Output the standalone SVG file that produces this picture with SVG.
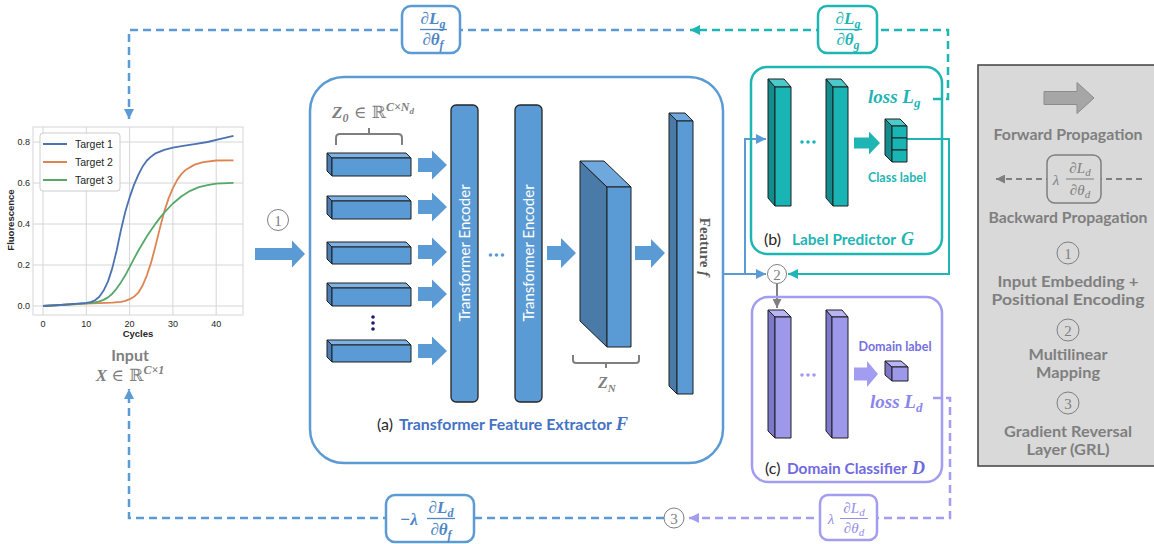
<svg xmlns="http://www.w3.org/2000/svg" width="1154" height="544" viewBox="0 0 1154 544">
<defs>
<style>
.sans{font-family:Lato,"Open Sans","Liberation Sans",sans-serif;font-weight:bold}
.math{font-family:"Liberation Serif","DejaVu Serif",serif;font-style:italic;font-weight:bold}
.mathr{font-family:"Liberation Serif","DejaVu Serif",serif;font-style:italic}
.up{font-family:"DejaVu Serif",serif;font-style:normal;font-weight:normal}
.plot{font-family:"Liberation Sans",Arial,sans-serif;fill:#262626}
.dash{fill:none;stroke-width:2.5;stroke-dasharray:8 5}
.solid{fill:none;stroke-width:2}
.blk{stroke:#1e1e1e;stroke-width:1;stroke-linejoin:round}
.bf{fill:#5b9bd5}.bs{fill:#4a7db3}.bt{fill:#7fb2e3}
.tf{fill:#19b4b4}.ts{fill:#128c8c}.tt{fill:#4ccaca}
.pf{fill:#9d98ea}.ps{fill:#7d78c9}.pt{fill:#b8b4f6}
.grid{stroke:#d6d6d6;stroke-width:1}
.circ{fill:#fff;stroke:#7f7f7f;stroke-width:1}
.num{font-family:"Liberation Serif","DejaVu Serif",serif;font-size:15px;fill:#7f7f7f;text-anchor:middle}
.leg{font-family:Lato,"Open Sans","Liberation Sans",sans-serif;font-weight:bold;font-size:15px;fill:#7f7f7f;text-anchor:middle}
.cap{font-family:Lato,"Open Sans","Liberation Sans",sans-serif;font-size:16px}
</style>
<marker id="mBlue" viewBox="0 0 10 10" refX="10" refY="5" markerWidth="10" markerHeight="10" markerUnits="userSpaceOnUse" orient="auto"><path d="M0,0 L10,5 L0,10 z" fill="#5b9bd5"/></marker>
<marker id="mTeal" viewBox="0 0 10 10" refX="10" refY="5" markerWidth="10" markerHeight="10" markerUnits="userSpaceOnUse" orient="auto"><path d="M0,0 L10,5 L0,10 z" fill="#1fb5b5"/></marker>
<marker id="mPurp" viewBox="0 0 10 10" refX="10" refY="5" markerWidth="10" markerHeight="10" markerUnits="userSpaceOnUse" orient="auto"><path d="M0,0 L10,5 L0,10 z" fill="#a29df0"/></marker>
<marker id="mGray" viewBox="0 0 10 10" refX="10" refY="5" markerWidth="9" markerHeight="9" markerUnits="userSpaceOnUse" orient="auto"><path d="M0,0 L10,5 L0,10 z" fill="#7f7f7f"/></marker>
</defs>
<rect width="1154" height="544" fill="#fff"/>

<!-- connectors -->
<g id="connectors">
  <path class="dash" stroke="#1fb5b5" d="M933 99 H948 V30 H690" marker-end="url(#mTeal)"/>
  <path class="dash" stroke="#5b9bd5" d="M684 30 H129 V119" marker-end="url(#mBlue)"/>
  <path class="dash" stroke="#a29df0" d="M933 398 H950 V518 H689" marker-end="url(#mPurp)"/>
  <path class="dash" stroke="#5b9bd5" d="M664 518 H129 V389" marker-end="url(#mBlue)"/>
  <path class="solid" stroke="#5b9bd5" d="M722 274 H745 V139 H766" marker-end="url(#mBlue)"/>
  <path class="solid" stroke="#5b9bd5" d="M745 274 H766" marker-end="url(#mBlue)"/>
  <path class="solid" stroke="#1fb5b5" d="M907 139 H949 V274 H788" marker-end="url(#mTeal)"/>
  <path class="solid" stroke="#7f7f7f" d="M777 284 V308" marker-end="url(#mGray)"/>
  <path fill="#5b9bd5" d="M255 248 H292 V240.5 L305 254 L292 267.5 V260 H255 Z"/>
</g>

<!-- gradient boxes -->
<g id="grad-top-left">
  <rect x="402" y="6" width="58" height="47" rx="9" fill="#fff" stroke="#5b9bd5" stroke-width="2.5"/>
  <text class="math" x="433" y="24" font-size="17" fill="#4f86c6" text-anchor="middle">∂L<tspan font-size="12" dy="4">g</tspan></text>
  <line x1="420" y1="29.5" x2="447" y2="29.5" stroke="#4f86c6" stroke-width="1.3"/>
  <text class="math" x="433" y="45" font-size="17" fill="#4f86c6" text-anchor="middle">∂θ<tspan font-size="12" dy="4">f</tspan></text>
</g>
<g id="grad-top-right">
  <rect x="818" y="6" width="59" height="47" rx="9" fill="#fff" stroke="#1fb5b5" stroke-width="2.5"/>
  <text class="math" x="848" y="24" font-size="17" fill="#1fb5b5" text-anchor="middle">∂L<tspan font-size="12" dy="4">g</tspan></text>
  <line x1="834" y1="29.5" x2="862" y2="29.5" stroke="#1fb5b5" stroke-width="1.3"/>
  <text class="math" x="848" y="45" font-size="17" fill="#1fb5b5" text-anchor="middle">∂θ<tspan font-size="12" dy="4">g</tspan></text>
</g>
<g id="grad-bottom-left">
  <rect x="386" y="495" width="88" height="47" rx="9" fill="#fff" stroke="#5b9bd5" stroke-width="2.5"/>
  <text class="math" x="409" y="525" font-size="17" fill="#4f86c6" text-anchor="middle">−λ</text>
  <text class="math" x="441" y="513" font-size="17" fill="#4f86c6" text-anchor="middle">∂L<tspan font-size="12" dy="4">d</tspan></text>
  <line x1="427" y1="518.5" x2="455" y2="518.5" stroke="#4f86c6" stroke-width="1.3"/>
  <text class="math" x="441" y="535" font-size="17" fill="#4f86c6" text-anchor="middle">∂θ<tspan font-size="12" dy="4">f</tspan></text>
</g>
<g id="grad-bottom-right">
  <rect x="820" y="495" width="57" height="45" rx="8" fill="#fff" stroke="#a29df0" stroke-width="2.5"/>
  <text class="mathr" x="831" y="524" font-size="15" fill="#938eea" text-anchor="middle">λ</text>
  <text class="mathr" x="854" y="513" font-size="15" fill="#938eea" text-anchor="middle">∂L<tspan font-size="11" dy="3">d</tspan></text>
  <line x1="840" y1="518.5" x2="868" y2="518.5" stroke="#938eea" stroke-width="1"/>
  <text class="mathr" x="854" y="533" font-size="15" fill="#938eea" text-anchor="middle">∂θ<tspan font-size="11" dy="3">d</tspan></text>
</g>

<!-- circled numbers -->
<g id="circle-1"><circle class="circ" cx="278" cy="220" r="10.5"/><text class="num" x="278" y="225.5">1</text></g>
<g id="circle-2"><circle class="circ" cx="777" cy="274" r="9.5"/><text class="num" x="777" y="279.5">2</text></g>
<g id="circle-3"><circle class="circ" cx="674" cy="518" r="10"/><text class="num" x="674" y="523.5">3</text></g>

<!-- input plot -->
<g id="input-plot">
  <rect x="33" y="127" width="210" height="188" fill="#fff" stroke="#d6d6d6" stroke-width="1"/>
  <g class="grid">
    <line x1="43" y1="127" x2="43" y2="315"/><line x1="86.3" y1="127" x2="86.3" y2="315"/>
    <line x1="129.6" y1="127" x2="129.6" y2="315"/><line x1="172.9" y1="127" x2="172.9" y2="315"/>
    <line x1="216.2" y1="127" x2="216.2" y2="315"/>
    <line x1="33" y1="306" x2="243" y2="306"/><line x1="33" y1="265" x2="243" y2="265"/>
    <line x1="33" y1="224" x2="243" y2="224"/><line x1="33" y1="183" x2="243" y2="183"/>
    <line x1="33" y1="142" x2="243" y2="142"/>
  </g>
  <g class="plot" font-size="9" text-anchor="end">
    <text x="30" y="309">0.0</text><text x="30" y="268">0.2</text><text x="30" y="227">0.4</text>
    <text x="30" y="186">0.6</text><text x="30" y="145">0.8</text>
  </g>
  <g class="plot" font-size="9" text-anchor="middle">
    <text x="43" y="327">0</text><text x="86.3" y="327">10</text><text x="129.6" y="327">20</text>
    <text x="172.9" y="327">30</text><text x="216.2" y="327">40</text>
  </g>
  <text class="plot" x="138" y="337" font-size="9.5" font-weight="bold" text-anchor="middle">Cycles</text>
  <text class="plot" transform="translate(14 220) rotate(-90)" font-size="9.5" font-weight="bold" text-anchor="middle">Fluorescence</text>
  <g fill="none" stroke-width="1.8" stroke-linejoin="round">
    <path stroke="#dd8452" d="M43,306 L86.3,303.7 L112.3,302.7 L120.9,301.9 L125.3,300.9 L129.6,299.2 L133.9,296.8 L138.3,292.7 L142.6,285.5 L146.9,275.3 L151.3,261.9 L155.6,245.5 L159.9,228.1 L164.2,211.7 L168.6,198.4 L172.9,188.1 L177.2,179.9 L181.6,173.8 L185.9,169.7 L194.6,164.6 L203.2,162.1 L216.2,160.5 L233.5,160.3"/>
    <path stroke="#55a868" d="M43,306 L86.3,303.3 L95,302.3 L99.3,301.3 L103.6,299.9 L108,297.4 L112.3,293.7 L116.6,288.6 L120.9,282.4 L125.3,275.3 L129.6,267.1 L133.9,258.9 L138.3,250.7 L142.6,243.5 L146.9,236.3 L151.3,229.7 L155.6,223.6 L159.9,217.9 L164.2,212.7 L168.6,208 L172.9,203.5 L181.6,196.3 L190.2,190.8 L198.9,187.1 L207.5,185.1 L216.2,183.6 L233.5,182.8"/>
    <path stroke="#4c72b0" d="M43,306 L60.3,305 L77.6,303.7 L86.3,302.9 L90.6,302.1 L95,300.3 L99.3,296.8 L103.6,290.6 L108,281.4 L112.3,268.1 L116.6,250.7 L120.9,230.2 L125.3,211.7 L129.6,197.4 L133.9,185.1 L138.3,174.8 L142.6,166.6 L146.9,160.5 L151.3,156.4 L155.6,153.3 L164.2,149.8 L172.9,147.7 L181.6,146.1 L194.6,144.1 L207.5,142 L220.5,138.9 L233.5,135.9"/>
  </g>
  <rect x="40" y="133" width="80" height="58" rx="3" fill="#fff" fill-opacity="0.85" stroke="#cccccc"/>
  <g stroke-width="2"><line x1="43" y1="144" x2="67" y2="144" stroke="#4c72b0"/><line x1="43" y1="162" x2="67" y2="162" stroke="#dd8452"/><line x1="43" y1="180" x2="67" y2="180" stroke="#55a868"/></g>
  <g class="plot" font-size="10.5"><text x="75" y="148">Target 1</text><text x="75" y="166">Target 2</text><text x="75" y="184">Target 3</text></g>
</g>
<g id="input-label">
  <text class="sans" x="130" y="361" font-size="16" fill="#7f7f7f" text-anchor="middle">Input</text>
  <text class="math" x="130" y="381" font-size="17" fill="#7f7f7f" text-anchor="middle">X <tspan class="up">∈ ℝ</tspan><tspan font-size="12" dy="-7">C×1</tspan></text>
</g>

<!-- feature extractor -->
<g id="feature-extractor">
  <rect x="310" y="77" width="413" height="386" rx="34" fill="none" stroke="#5b9bd5" stroke-width="2.5"/>
  <text class="math" x="332" y="118" font-size="17" fill="#7f7f7f">Z<tspan font-size="12" dy="4">0</tspan><tspan class="up" dy="-4"> ∈ ℝ</tspan><tspan font-size="12" dy="-7">C×N</tspan><tspan font-size="9" dy="3">d</tspan></text>
  <path d="M336 145 V138 Q336 134 340 134 H369 V128 M369 134 H398 Q402 134 402 138 V145" fill="none" stroke="#7f7f7f" stroke-width="2"/>
  <g id="tokens" class="blk">
    <g><path class="bs" d="M327 153 L332 158 V176 L327 171 Z"/><path class="bt" d="M327 153 H406 L411 158 H332 Z"/><rect class="bf" x="332" y="158" width="79" height="18"/></g>
    <g><path class="bs" d="M327 196 L332 201 V219 L327 214 Z"/><path class="bt" d="M327 196 H406 L411 201 H332 Z"/><rect class="bf" x="332" y="201" width="79" height="18"/></g>
    <g><path class="bs" d="M327 242 L332 247 V264 L327 259 Z"/><path class="bt" d="M327 242 H406 L411 247 H332 Z"/><rect class="bf" x="332" y="247" width="79" height="17"/></g>
    <g><path class="bs" d="M327 283 L332 288 V306 L327 301 Z"/><path class="bt" d="M327 283 H406 L411 288 H332 Z"/><rect class="bf" x="332" y="288" width="79" height="18"/></g>
    <g><path class="bs" d="M327 340 L332 345 V362 L327 357 Z"/><path class="bt" d="M327 340 H406 L411 345 H332 Z"/><rect class="bf" x="332" y="345" width="79" height="17"/></g>
  </g>
  <g fill="#1a1a6e"><circle cx="373" cy="317" r="1.8"/><circle cx="373" cy="323" r="1.8"/><circle cx="373" cy="329" r="1.8"/></g>
  <g fill="#5b9bd5">
    <path d="M418 158 H432 V150.5 L447 165 L432 179.5 V172 H418 Z"/>
    <path d="M418 200 H432 V192.5 L447 207 L432 221.5 V214 H418 Z"/>
    <path d="M418 245 H432 V237.5 L447 252 L432 266.5 V259 H418 Z"/>
    <path d="M418 287 H432 V279.5 L447 294 L432 308.5 V301 H418 Z"/>
    <path d="M418 344 H432 V336.5 L447 351 L432 365.5 V358 H418 Z"/>
    <path d="M547 246 H561 V238 L576 253 L561 268 V260 H547 Z"/>
    <path d="M635 246 H651 V239 L665 253 L651 268 V260 H635 Z"/>
  </g>
  <rect x="451" y="105" width="27" height="297" rx="5" fill="#5b9bd5" stroke="#262626" stroke-width="1.3"/>
  <rect x="515" y="105" width="27" height="297" rx="5" fill="#5b9bd5" stroke="#262626" stroke-width="1.3"/>
  <text transform="translate(470 253) rotate(-90)" font-family="Lato,'Open Sans',sans-serif" font-size="15" fill="#fff" text-anchor="middle">Transformer Encoder</text>
  <text transform="translate(534 253) rotate(-90)" font-family="Lato,'Open Sans',sans-serif" font-size="15" fill="#fff" text-anchor="middle">Transformer Encoder</text>
  <g fill="#5b9bd5"><circle cx="490.5" cy="255" r="1.8"/><circle cx="496.5" cy="255" r="1.8"/><circle cx="502.5" cy="255" r="1.8"/></g>
  <g class="blk">
    <path d="M580 161 L607 187 V347 L580 321 Z" fill="#4a7aa8"/>
    <path d="M580 161 H604 L631 187 H607 Z" fill="#6fa8dc"/>
    <rect x="607" y="187" width="24" height="160" fill="#5b9bd5"/>
  </g>
  <path d="M573 355 V360 Q573 363 576 363 H606 V368 M606 363 H636 Q639 363 639 360 V355" fill="none" stroke="#7f7f7f" stroke-width="2"/>
  <text class="math" x="598" y="388" font-size="16" fill="#7f7f7f">Z<tspan font-size="11" dy="4">N</tspan></text>
  <g class="blk">
    <path d="M669 113 L677 121 V394 L669 386 Z" fill="#4a7aa8"/>
    <path d="M669 113 H685 L693 121 H677 Z" fill="#6fa8dc"/>
    <rect x="677" y="121" width="16" height="273" fill="#5b9bd5"/>
  </g>
  <text transform="translate(700 247) rotate(90)" font-family="'Liberation Serif','DejaVu Serif',serif" font-weight="bold" font-size="15" fill="#595959" text-anchor="middle">Feature <tspan font-style="italic">f</tspan></text>
  <text class="cap" y="430"><tspan x="377" fill="#262626">(a)</tspan><tspan x="399" fill="#4472c4" font-weight="bold" textLength="213" lengthAdjust="spacingAndGlyphs">Transformer Feature Extractor</tspan><tspan class="math" x="616" fill="#4472c4" font-size="18">F</tspan></text>
</g>

<!-- label predictor -->
<g id="label-predictor">
  <rect x="751" y="67" width="191" height="187" rx="16" fill="none" stroke="#1fb5b5" stroke-width="2.5"/>
  <g class="blk">
    <path d="M768 79 L775 87 V206 L768 198 Z" class="ts"/><path d="M768 79 H784 L791 87 H775 Z" class="tt"/><rect x="775" y="87" width="16" height="119" class="tf"/>
    <path d="M826 79 L833 87 V206 L826 198 Z" class="ts"/><path d="M826 79 H841 L848 87 H833 Z" class="tt"/><rect x="833" y="87" width="15" height="119" class="tf"/>
  </g>
  <g fill="#1fb5b5"><circle cx="802" cy="142" r="1.8"/><circle cx="808" cy="142" r="1.8"/><circle cx="814" cy="142" r="1.8"/></g>
  <path d="M854 137.5 H869 V131.5 L880 143 L869 154.5 V148.5 H854 Z" fill="#1fb5b5"/>
  <g class="blk">
    <path d="M885 119 L892 126 V162 L885 155 Z" class="ts"/>
    <path d="M885 119 H900 L907 126 H892 Z" class="tt"/>
    <rect x="892" y="126" width="15" height="12" class="tf"/><rect x="892" y="138" width="15" height="12" class="tf"/><rect x="892" y="150" width="15" height="12" class="tf"/>
  </g>
  <text class="sans" x="897" y="182" font-size="12.5" fill="#1fb5b5" text-anchor="middle">Class label</text>
  <text class="math" x="868" y="103" font-size="19" fill="#1fb5b5">loss L<tspan font-size="13" dy="4">g</tspan></text>
  <text class="cap" y="245"><tspan x="764" fill="#262626">(b)</tspan><tspan x="792" fill="#1fb5b5" font-weight="bold" textLength="104" lengthAdjust="spacingAndGlyphs">Label Predictor</tspan><tspan class="math" x="901" fill="#1fb5b5" font-size="18">G</tspan></text>
</g>

<!-- domain classifier -->
<g id="domain-classifier">
  <rect x="752" y="297" width="190" height="185" rx="16" fill="none" stroke="#a29df0" stroke-width="2.5"/>
  <g class="blk">
    <path d="M768 310 L775 317 V438 L768 431 Z" class="ps"/><path d="M768 310 H784 L791 317 H775 Z" class="pt"/><rect x="775" y="317" width="16" height="121" class="pf"/>
    <path d="M826 310 L832 317 V438 L826 431 Z" class="ps"/><path d="M826 310 H842 L848 317 H832 Z" class="pt"/><rect x="832" y="317" width="16" height="121" class="pf"/>
  </g>
  <g fill="#a29df0"><circle cx="802" cy="375" r="1.8"/><circle cx="808" cy="375" r="1.8"/><circle cx="814" cy="375" r="1.8"/></g>
  <path d="M854 367.5 H867 V361 L878 374 L867 387 V380.5 H854 Z" fill="#a29df0"/>
  <g class="blk">
    <path d="M885 361 L892 367 V381 L885 375 Z" class="ps"/>
    <path d="M885 361 H901 L908 367 H892 Z" class="pt"/>
    <rect x="892" y="367" width="16" height="14" class="pf"/>
  </g>
  <text class="sans" x="895" y="351" font-size="12.5" fill="#7570e0" text-anchor="middle">Domain label</text>
  <text class="math" x="870" y="408" font-size="19" fill="#8a85ea">loss L<tspan font-size="13" dy="4">d</tspan></text>
  <text class="cap" y="474"><tspan x="765" fill="#262626">(c)</tspan><tspan x="787" fill="#6f6ae0" font-weight="bold" textLength="120" lengthAdjust="spacingAndGlyphs">Domain Classifier</tspan><tspan class="math" x="912" fill="#6f6ae0" font-size="18">D</tspan></text>
</g>

<!-- legend -->
<g id="legend">
  <rect x="978" y="65" width="190" height="401" fill="#d9d9d9" stroke="#404040" stroke-width="1.5"/>
  <path d="M1044 91.5 H1077 V82.5 L1094 98 L1077 113.5 V104.5 H1044 Z" fill="#a6a6a6" stroke="#8c8c8c" stroke-width="1"/>
  <text class="leg" x="1068" y="140" textLength="149" lengthAdjust="spacingAndGlyphs">Forward Propagation</text>
  <path d="M1142 179 H996" fill="none" stroke="#7f7f7f" stroke-width="2" stroke-dasharray="6 4" marker-end="url(#mGray)"/>
  <rect x="1047" y="155" width="54" height="48" rx="8" fill="#d9d9d9" stroke="#7f7f7f" stroke-width="1.5"/>
  <text class="mathr" x="1056" y="185" font-size="15" fill="#7f7f7f" text-anchor="middle">λ</text>
  <text class="mathr" x="1080" y="173" font-size="15" fill="#7f7f7f" text-anchor="middle">∂L<tspan font-size="11" dy="3">d</tspan></text>
  <line x1="1066" y1="179" x2="1094" y2="179" stroke="#7f7f7f" stroke-width="1"/>
  <text class="mathr" x="1080" y="195" font-size="15" fill="#7f7f7f" text-anchor="middle">∂θ<tspan font-size="11" dy="3">d</tspan></text>
  <text class="leg" x="1068" y="223" textLength="159" lengthAdjust="spacingAndGlyphs">Backward Propagation</text>
  <circle cx="1068" cy="253" r="11" fill="none" stroke="#7f7f7f" stroke-width="1"/><text class="num" x="1068" y="258.5">1</text>
  <text class="leg" x="1068" y="287" textLength="141" lengthAdjust="spacingAndGlyphs">Input Embedding +</text>
  <text class="leg" x="1068" y="305" textLength="153" lengthAdjust="spacingAndGlyphs">Positional Encoding</text>
  <circle cx="1068" cy="330" r="11" fill="none" stroke="#7f7f7f" stroke-width="1"/><text class="num" x="1068" y="335.5">2</text>
  <text class="leg" x="1068" y="360" textLength="79" lengthAdjust="spacingAndGlyphs">Multilinear</text>
  <text class="leg" x="1068" y="378" textLength="64" lengthAdjust="spacingAndGlyphs">Mapping</text>
  <circle cx="1068" cy="403" r="11" fill="none" stroke="#7f7f7f" stroke-width="1"/><text class="num" x="1068" y="408.5">3</text>
  <text class="leg" x="1068" y="437" textLength="128" lengthAdjust="spacingAndGlyphs">Gradient Reversal</text>
  <text class="leg" x="1068" y="455" textLength="83" lengthAdjust="spacingAndGlyphs">Layer (GRL)</text>
</g>
</svg>
